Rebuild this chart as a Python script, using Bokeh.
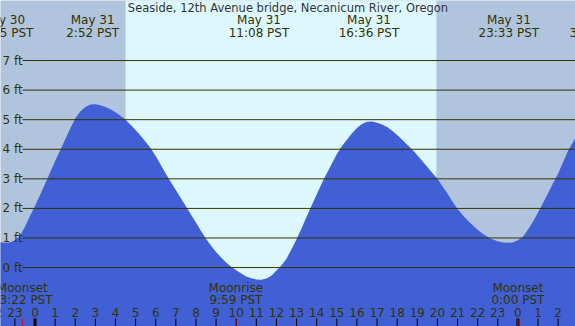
from bokeh.plotting import figure
from bokeh.models import Range1d
from bokeh.core.properties import value
from bokeh.embed import file_html
from bokeh.resources import INLINE

# Tide height (ft) every quarter hour, hours counted from May 31 00:00 PST
tide_hours = [-2.0 + 0.25 * i for i in range(117)]
tide_feet = [
    0.90, 0.86, 0.84, 0.85, 0.92, 1.07, 1.38, 1.74,          # -2.00 .. -0.25
    2.08, 2.45, 2.83, 3.21, 3.60, 3.97, 4.33, 4.70,          #  0.00 ..  1.75
    5.04, 5.28, 5.43, 5.51, 5.52, 5.49, 5.43, 5.35,          #  2.00 ..  3.75
    5.25, 5.13, 5.00, 4.83, 4.65, 4.46, 4.25, 4.03,          #  4.00 ..  5.75
    3.77, 3.48, 3.17, 2.89, 2.62, 2.34, 2.07, 1.79,          #  6.00 ..  7.75
    1.52, 1.24, 0.97, 0.74, 0.53, 0.34, 0.17, 0.03,          #  8.00 ..  9.75
    -0.09, -0.20, -0.30, -0.36, -0.40, -0.41, -0.37, -0.28,  # 10.00 .. 11.75
    -0.10, 0.07, 0.30, 0.62, 0.96, 1.33, 1.72, 2.10,         # 12.00 .. 13.75
    2.47, 2.84, 3.18, 3.51, 3.83, 4.10, 4.32, 4.53,          # 14.00 .. 15.75
    4.72, 4.85, 4.93, 4.94, 4.90, 4.84, 4.75, 4.63,          # 16.00 .. 17.75
    4.48, 4.32, 4.15, 3.99, 3.80, 3.60, 3.40, 3.20,          # 18.00 .. 19.75
    3.00, 2.75, 2.50, 2.23, 1.98, 1.78, 1.60, 1.43,          # 20.00 .. 21.75
    1.28, 1.14, 1.03, 0.95, 0.89, 0.85, 0.84, 0.85,          # 22.00 .. 23.75
    0.92, 1.04, 1.28, 1.55, 1.86, 2.18, 2.52, 2.85,          # 24.00 .. 25.75
    3.18, 3.57, 3.96, 4.25, 4.55,                            # 26.00 .. 27.00
]

# High / low water times
extreme_hours = [-1.583, 2.867, 11.133, 16.6, 23.55, 27.883]
extreme_dates = ["May 30", "May 31", "May 31", "May 31", "May 31", "Jun 1"]
extreme_times = ["22:25 PST", "2:52 PST", "11:08 PST", "16:36 PST", "23:33 PST", "3:53 PST"]

# Moon events
moon_hours = [-0.633, 9.983, 24.0]
moon_events = ["Moonset", "Moonrise", "Moonset"]
moon_times = ["23:22 PST", "9:59 PST", "0:00 PST"]

# Daylight
sunrise_hour = 4.5
sunset_hour = 19.95

level_ticks = [0, 1, 2, 3, 4, 5, 6, 7]
level_labels = ["0 ft", "1 ft", "2 ft", "3 ft", "4 ft", "5 ft", "6 ft", "7 ft"]
hour_ticks = list(range(-2, 28))
hour_labels = [str(h % 24) for h in hour_ticks]
midnight_ticks = [0, 24]

title_text = "Seaside, 12th Avenue bridge, Necanicum River, Oregon"

W, H = 575, 326
X_START, X_END = -1.715, 26.864
Y_START, Y_END = -1.993, 9.030

NIGHT = "#b0c4de"
DAY = "#ddf7ff"
WATER = "#4160d6"
INK = "#333300"
FONT = value("DejaVu Sans")


def hx(px):
    return X_START + px * (X_END - X_START) / W


def fy(py):
    return Y_END - py * (Y_END - Y_START) / H


p = figure(width=W, height=H, output_backend="svg", toolbar_location=None,
           x_range=Range1d(X_START, X_END), y_range=Range1d(Y_START, Y_END),
           min_border=0, outline_line_color=None, background_fill_color=NIGHT,
           border_fill_color=NIGHT)
p.axis.visible = False
p.grid.visible = False

# daylight band
p.quad(left=[sunrise_hour], right=[sunset_hour], bottom=[Y_START - 1],
       top=[Y_END + 1], fill_color=DAY, line_color=None)

# water
p.varea(x=tide_hours, y1=[Y_START - 1] * len(tide_hours), y2=tide_feet,
        fill_color=WATER)

# level lines and labels
p.segment(x0=[hx(22)] * len(level_ticks), x1=[X_END + 1] * len(level_ticks),
          y0=level_ticks, y1=level_ticks, line_color=INK, line_width=1)
p.text(x=[hx(2)] * len(level_ticks), y=level_ticks, text=level_labels,
       text_font=FONT, text_font_size="12px", text_color=INK,
       text_align="left", text_baseline="middle")

# title
p.text(x=[(X_START + X_END) / 2], y=[fy(7)], text=[title_text],
       text_font=FONT, text_font_size="11.5px", text_color="#333333",
       text_align="center", text_baseline="middle")

# high / low labels
p.text(x=extreme_hours, y=[fy(19.5)] * len(extreme_hours), text=extreme_dates,
       text_font=FONT, text_font_size="12px", text_color=INK,
       text_align="center", text_baseline="middle")
p.text(x=extreme_hours, y=[fy(32)] * len(extreme_hours), text=extreme_times,
       text_font=FONT, text_font_size="12px", text_color=INK,
       text_align="center", text_baseline="middle")

# moon labels
p.text(x=moon_hours, y=[fy(287.5)] * len(moon_hours), text=moon_events,
       text_font=FONT, text_font_size="12px", text_color=INK,
       text_align="center", text_baseline="middle")
p.text(x=moon_hours, y=[fy(299.5)] * len(moon_hours), text=moon_times,
       text_font=FONT, text_font_size="12px", text_color=INK,
       text_align="center", text_baseline="middle")

# hour labels and ticks
p.text(x=hour_ticks, y=[fy(311.5)] * len(hour_ticks), text=hour_labels,
       text_font=FONT, text_font_size="12px", text_color=INK,
       text_align="center", text_baseline="middle")
p.segment(x0=hour_ticks, x1=hour_ticks, y0=[fy(318)] * len(hour_ticks),
          y1=[Y_START - 1] * len(hour_ticks), line_color="#000000", line_width=1)
p.segment(x0=midnight_ticks, x1=midnight_ticks, y0=[fy(318)] * len(midnight_ticks),
          y1=[Y_START - 1] * len(midnight_ticks), line_color="#000000", line_width=3)
p.segment(x0=moon_hours, x1=moon_hours, y0=[fy(318)] * len(moon_hours),
          y1=[Y_START - 1] * len(moon_hours), line_color="#ff0000", line_width=1)

open("out.html", "w").write(file_html(p, INLINE))
